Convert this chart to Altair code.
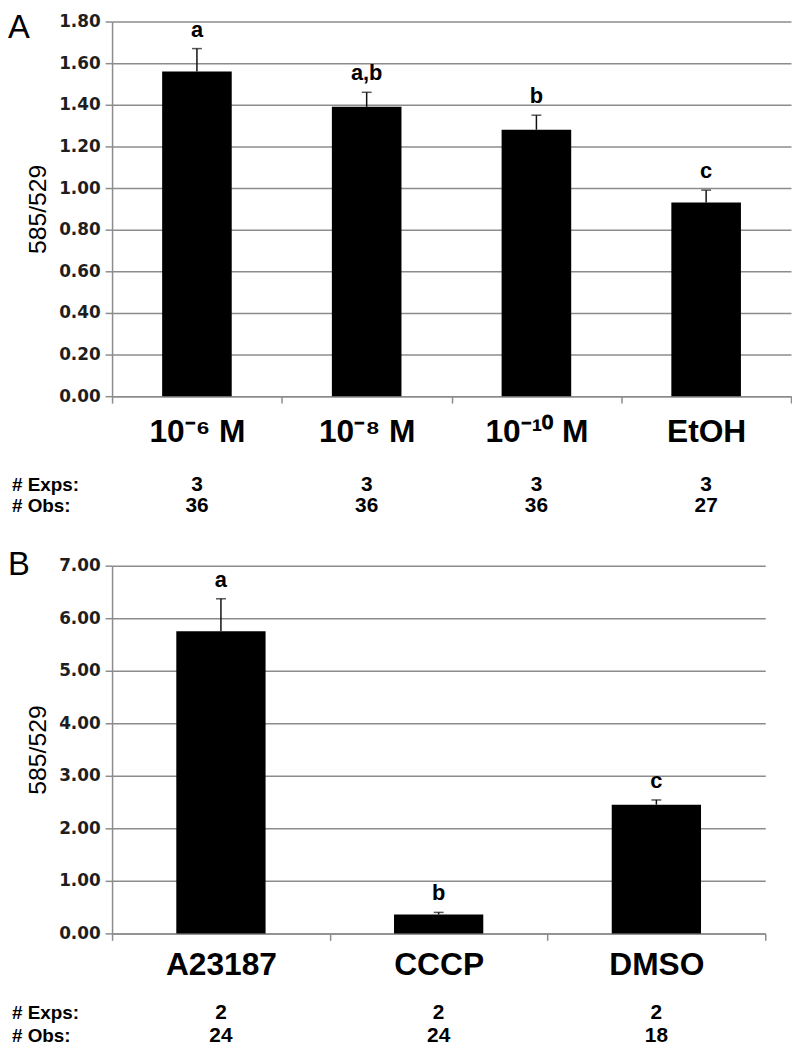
import altair as alt
import pandas as pd

# ---------------- data ----------------
cats_a = ["10⁻⁶ M", "10⁻⁸ M", "10⁻¹⁰ M", "EtOH"]
means_a = [1.56, 1.39, 1.28, 0.93]
errs_a = [0.11, 0.07, 0.07, 0.06]
sig_a = ["a", "a,b", "b", "c"]
exps_a = ["3", "3", "3", "3"]
obs_a = ["36", "36", "36", "27"]
yticks_a = [0.0, 0.2, 0.4, 0.6, 0.8, 1.0, 1.2, 1.4, 1.6, 1.8]

cats_b = ["A23187", "CCCP", "DMSO"]
means_b = [5.75, 0.36, 2.45]
errs_b = [0.62, 0.04, 0.09]
sig_b = ["a", "b", "c"]
exps_b = ["2", "2", "2"]
obs_b = ["24", "24", "18"]
yticks_b = [0.0, 1.0, 2.0, 3.0, 4.0, 5.0, 6.0, 7.0]

row_labels = ["# Exps:", "# Obs:"]
y_title = "585/529"
panel_letters = ["A", "B"]

GRAY = "#8c8c8c"
SANS = "Liberation Sans, Arial, sans-serif"
TICKFONT = "DejaVu Sans, Verdana, sans-serif"


def panel(letter, cats, means, errs, sig, exps, obs, yticks, W, H,
          label_pad, letter_y, exps_y, obs_y):
    df = pd.DataFrame({"cat": cats, "mean": means, "err": errs, "sig": sig,
                       "exps": exps, "obs": obs})
    base = alt.Chart(df).transform_calculate(top="datum.mean + datum.err")

    x = alt.X("cat:N", sort=cats,
              scale=alt.Scale(paddingInner=0, paddingOuter=0),
              axis=alt.Axis(title=None, labelAngle=0, tickBand="extent",
                            labelFont=SANS, labelFontSize=32,
                            labelFontWeight="bold", labelColor="black",
                            labelPadding=label_pad, labelOverlap=False,
                            labelLimit=300, tickSize=7, tickColor=GRAY,
                            tickWidth=1.5, domainColor=GRAY, domainWidth=1.5,
                            grid=False))
    yscale = alt.Scale(domain=[yticks[0], yticks[-1]], nice=False, zero=True)
    y = alt.Y("mean:Q", scale=yscale,
              axis=alt.Axis(title=y_title, values=yticks, format=".2f",
                            labelFont=TICKFONT, labelFontSize=17,
                            labelFontWeight="bold", labelColor="#1e1e1e",
                            labelPadding=5, tickSize=7, tickColor=GRAY,
                            tickWidth=1.5, domainColor=GRAY, domainWidth=1.5,
                            grid=True, gridColor=GRAY, gridWidth=1.5,
                            titleFont=SANS, titleFontSize=25,
                            titleFontWeight="normal", titleColor="black",
                            titlePadding=8))

    bars = base.mark_bar(color="black",
                         width=alt.RelativeBandSize(0.41)).encode(x=x, y=y)
    err = base.mark_rule(color="#111111", strokeWidth=1.5).encode(
        x=x, y=alt.Y("mean:Q", scale=yscale), y2="top:Q")
    cap = base.mark_tick(color="#111111", orient="horizontal", size=10,
                         thickness=1.5).encode(
        x=x, y=alt.Y("top:Q", scale=yscale))
    sig_text = base.mark_text(baseline="bottom", dy=-7, font=SANS,
                              fontSize=22, fontWeight="bold",
                              color="black").encode(
        x=x, y=alt.Y("top:Q", scale=yscale), text="sig:N")
    exps_text = base.mark_text(baseline="middle", font=SANS, fontSize=21,
                               fontWeight="bold", color="black").encode(
        x=x, y=alt.value(exps_y), text="exps:N")
    obs_text = base.mark_text(baseline="middle", font=SANS, fontSize=21,
                              fontWeight="bold", color="black").encode(
        x=x, y=alt.value(obs_y), text="obs:N")

    lab_df = pd.DataFrame({"t": row_labels, "yy": [exps_y, obs_y]})
    row_text = alt.Chart(lab_df).mark_text(
        align="left", baseline="middle", font=SANS, fontSize=19,
        fontWeight="bold", color="black").encode(
        x=alt.value(-101), y=alt.Y("yy:Q", scale=None), text="t:N")

    let_df = pd.DataFrame({"t": [letter]})
    letter_text = alt.Chart(let_df).mark_text(
        align="left", baseline="alphabetic", font=SANS, fontSize=33,
        color="black").encode(
        x=alt.value(-105), y=alt.value(letter_y), text="t:N")

    return alt.layer(bars, err, cap, sig_text, exps_text, obs_text,
                     row_text, letter_text).properties(width=W, height=H)


pa = panel(panel_letters[0], cats_a, means_a, errs_a, sig_a, exps_a, obs_a,
           yticks_a, 685, 378, 14, 17, 468, 489)
pb = panel(panel_letters[1], cats_b, means_b, errs_b, sig_b, exps_b, obs_b,
           yticks_b, 659, 371, 9, 9, 451, 475)

chart = alt.vconcat(pa, pb, spacing=33).properties(padding=0).configure_view(
    stroke=None).resolve_scale(x="independent", y="independent")

chart.save("out.html", embed_options={"renderer": "svg", "actions": False})
